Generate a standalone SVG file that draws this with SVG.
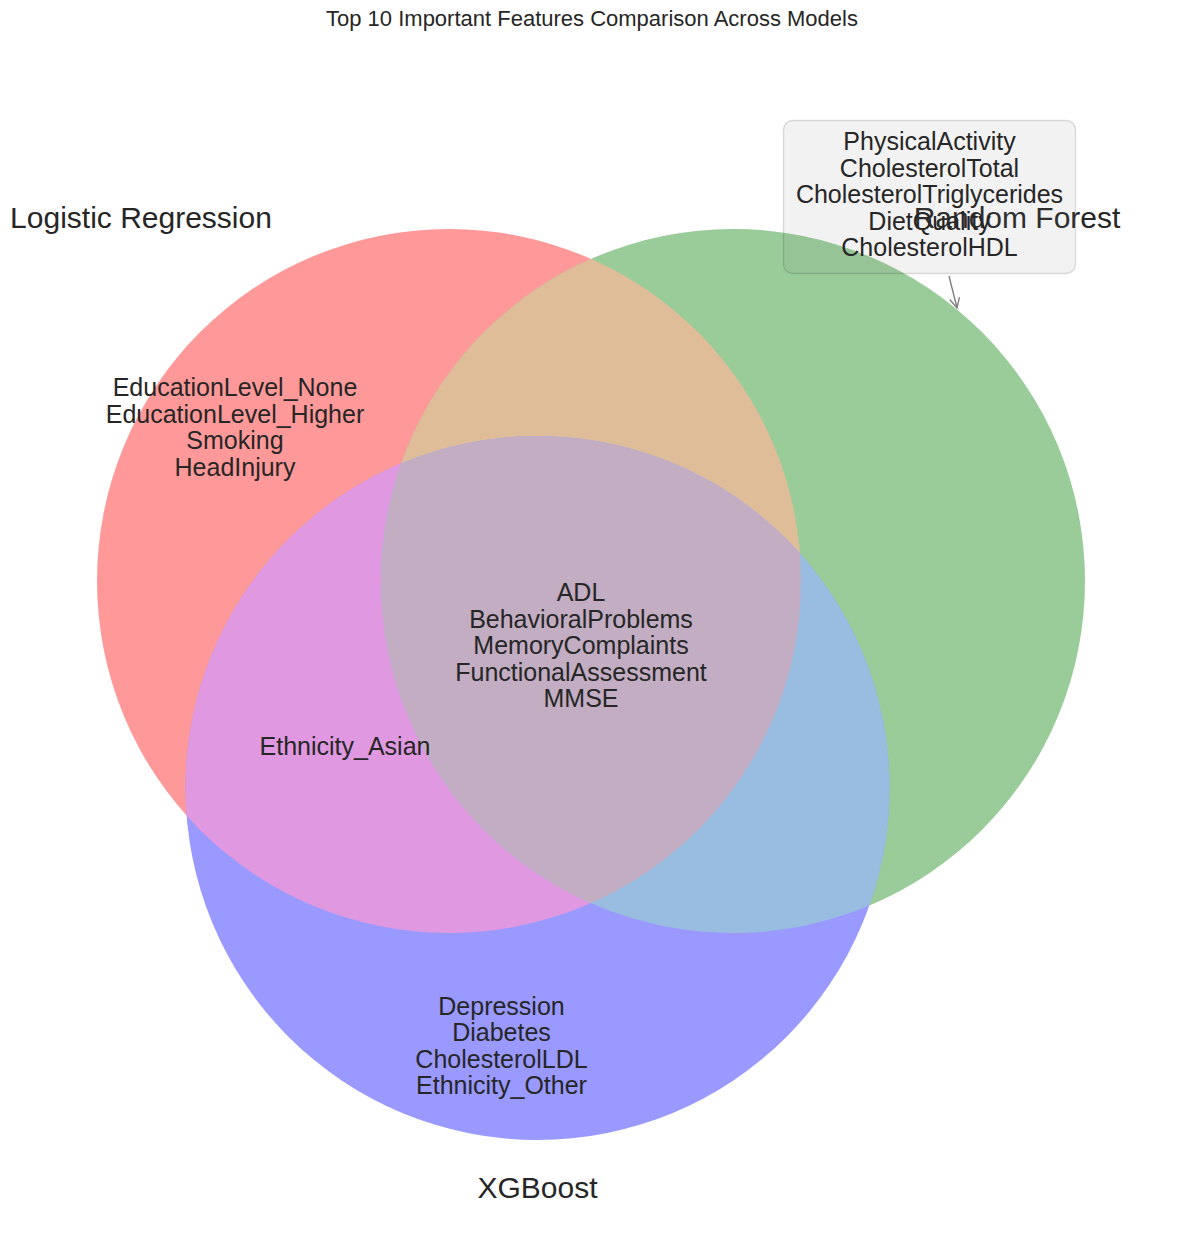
<svg xmlns="http://www.w3.org/2000/svg" width="1182" height="1237" viewBox="0 0 1182 1237">
<style>
text { font-family: "Liberation Sans", Arial, sans-serif; fill: #262626; }
.title { font-size: 22px; text-anchor: middle; }
.setlabel { font-size: 30px; text-anchor: middle; }
.sub { font-size: 25px; text-anchor: middle; }
</style>
<defs>
<clipPath id="cR"><circle cx="449" cy="581" r="352"/></clipPath>
<clipPath id="cG"><circle cx="733" cy="581" r="352"/></clipPath>
<marker id="open" viewBox="-12 -7 14 14" markerWidth="14" markerHeight="14" refX="0" refY="0" orient="auto" markerUnits="userSpaceOnUse">
<path d="M-10,-5 L0,0 L-10,5" fill="none" stroke="#808080" stroke-width="1.4"/>
</marker>
</defs>
<rect x="0" y="0" width="1182" height="1237" fill="#ffffff"/>
<text class="title" x="592" y="26">Top 10 Important Features Comparison Across Models</text>
<g id="regions">
<g id="set-lr"><circle cx="449" cy="581" r="352" fill="#FF9999"/></g>
<g id="set-rf"><circle cx="733" cy="581" r="352" fill="#99CC99"/></g>
<g id="set-xgb"><circle cx="537.5" cy="788" r="352" fill="#9999FF"/></g>
<g id="region-lr-rf"><circle cx="733" cy="581" r="352" fill="#E0BD99" clip-path="url(#cR)"/></g>
<g id="region-lr-xgb"><circle cx="537.5" cy="788" r="352" fill="#E099E0" clip-path="url(#cR)"/></g>
<g id="region-rf-xgb"><circle cx="537.5" cy="788" r="352" fill="#99BDE0" clip-path="url(#cG)"/></g>
<g id="region-all" clip-path="url(#cR)"><circle cx="537.5" cy="788" r="352" fill="#C2ADC2" clip-path="url(#cG)"/></g>
</g>
<g id="set-labels">
<text id="label-lr" class="setlabel" x="141" y="228">Logistic Regression</text>
<text id="label-rf" class="setlabel" x="1017" y="228">Random Forest</text>
<text id="label-xgb" class="setlabel" x="537.5" y="1198">XGBoost</text>
</g>
<g id="subset-lr" class="sub">
<text class="sub" x="235" y="396">EducationLevel_None</text>
<text class="sub" x="235" y="422.6">EducationLevel_Higher</text>
<text class="sub" x="235" y="449.2">Smoking</text>
<text class="sub" x="235" y="475.8">HeadInjury</text>
</g>
<g id="subset-all">
<text class="sub" x="581" y="601">ADL</text>
<text class="sub" x="581" y="627.5">BehavioralProblems</text>
<text class="sub" x="581" y="654">MemoryComplaints</text>
<text class="sub" x="581" y="680.5">FunctionalAssessment</text>
<text class="sub" x="581" y="707">MMSE</text>
</g>
<g id="subset-lr-xgb">
<text class="sub" x="345" y="755">Ethnicity_Asian</text>
</g>
<g id="subset-xgb">
<text class="sub" x="501.5" y="1015">Depression</text>
<text class="sub" x="501.5" y="1041.3">Diabetes</text>
<text class="sub" x="501.5" y="1067.6">CholesterolLDL</text>
<text class="sub" x="501.5" y="1094">Ethnicity_Other</text>
</g>
<g id="connectors">
<line x1="949" y1="276" x2="957" y2="308" stroke="#808080" stroke-width="1.4" marker-end="url(#open)"/>
</g>
<g id="subset-rf">
<rect x="783.5" y="120.5" width="292" height="153" rx="9" ry="9" fill="#808080" fill-opacity="0.1" stroke="#000000" stroke-opacity="0.13" stroke-width="1.4"/>
<text class="sub" x="929.5" y="150">PhysicalActivity</text>
<text class="sub" x="929.5" y="176.5">CholesterolTotal</text>
<text class="sub" x="929.5" y="203">CholesterolTriglycerides</text>
<text class="sub" x="929.5" y="229.5">DietQuality</text>
<text class="sub" x="929.5" y="256">CholesterolHDL</text>
</g>
</svg>
